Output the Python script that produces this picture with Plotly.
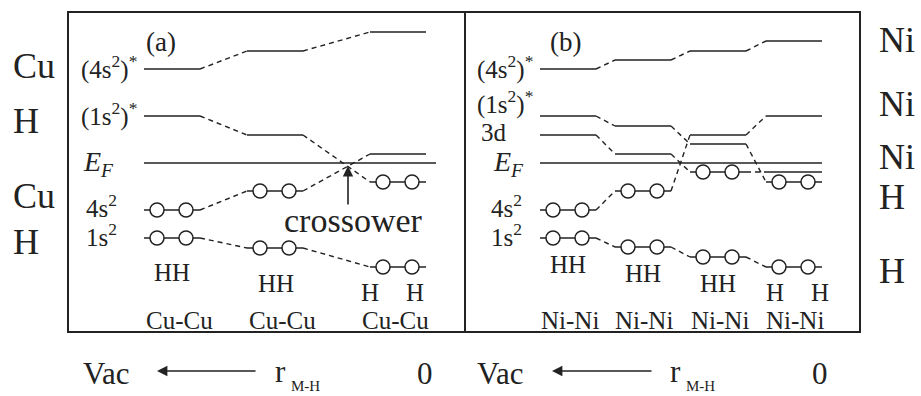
import plotly.graph_objects as go

# ---------------- data: level energies relative to E_F (arbitrary units) -------------
# panel (a): H2 on Cu-Cu, three stages from vacuum to r_M-H = 0
a_4s_star = [94, 112, 131]
a_1s_star = [47, 28, -19]
a_4s = [-47, -28, 9]
a_1s = [-75, -85, -104]
a_4s_star_occ = [0, 0, 0]
a_1s_star_occ = [0, 0, 1]
a_4s_occ = [1, 1, 0]
a_1s_occ = [1, 1, 1]
a_pair_labels = ["Cu-Cu", "Cu-Cu", "Cu-Cu"]
a_h_labels = ["HH", "HH"]

# panel (b): H2 on Ni-Ni, four stages
b_4s_star = [94, 103, 112, 122]
b_1s_star = [47, 37, 19, -19]
b_3d = [28, 9, -9, -9]
b_4s = [-47, -28, 28, 47]
b_1s = [-75, -84, -94, -104]
b_4s_star_occ = [0, 0, 0, 0]
b_1s_star_occ = [0, 0, 0, 1]
b_3d_occ = [0, 0, 1, 0]
b_4s_occ = [1, 1, 0, 0]
b_1s_occ = [1, 1, 1, 1]
b_pair_labels = ["Ni-Ni", "Ni-Ni", "Ni-Ni", "Ni-Ni"]
b_h_labels = ["HH", "HH", "HH"]

# ---------------- layout (pixel geometry) ----------------
W, H = 921, 396
EF_PX = 163
def Y(px):
    return EF_PX - px

A_X0 = [144, 247, 370]
B_X0 = [540, 615, 690, 766]
SEG = 56
CIRC = [13, 42]
INK = "#222222"
FONT = "Liberation Serif, Times New Roman, serif"

fig = go.Figure()

def add_tracks(x0s, tracks):
    sx, sy, dx, dy, cx, cy = [], [], [], [], [], []
    for levels, occ in tracks:
        for i, e in enumerate(levels):
            sx += [x0s[i], x0s[i] + SEG, None]
            sy += [e, e, None]
            if occ[i]:
                for o in CIRC:
                    cx.append(x0s[i] + o)
                    cy.append(e)
            if i + 1 < len(levels):
                dx += [x0s[i] + SEG, x0s[i + 1], None]
                dy += [e, levels[i + 1], None]
    fig.add_trace(go.Scatter(x=sx, y=sy, mode="lines",
                             line=dict(color=INK, width=1.6), hoverinfo="skip"))
    fig.add_trace(go.Scatter(x=dx, y=dy, mode="lines",
                             line=dict(color=INK, width=1.4, dash="5px,4px"),
                             hoverinfo="skip"))
    fig.add_trace(go.Scatter(x=cx, y=cy, mode="markers",
                             marker=dict(symbol="circle", size=14, color="white",
                                         line=dict(color=INK, width=1.5)),
                             hoverinfo="skip"))

# Fermi levels
fig.add_trace(go.Scatter(x=[144, 436, None, 540, 822], y=[0, 0, None, 0, 0],
                         mode="lines", line=dict(color=INK, width=1.6),
                         hoverinfo="skip"))

add_tracks(A_X0, [(a_4s_star, a_4s_star_occ), (a_1s_star, a_1s_star_occ),
                  (a_4s, a_4s_occ), (a_1s, a_1s_occ)])
add_tracks(B_X0, [(b_4s_star, b_4s_star_occ), (b_1s_star, b_1s_star_occ),
                  (b_3d, b_3d_occ), (b_4s, b_4s_occ), (b_1s, b_1s_occ)])

# frame
shapes = [
    dict(type="rect", x0=68, x1=860, y0=Y(12), y1=Y(332),
         line=dict(color=INK, width=2)),
    dict(type="line", x0=465, x1=465, y0=Y(12), y1=Y(332),
         line=dict(color=INK, width=2)),
]

ann = []
def txt(t, x, ypx, size, xanchor="center"):
    ann.append(dict(text=t, x=x, y=Y(ypx), xref="x", yref="y", showarrow=False,
                    xanchor=xanchor, yanchor="middle",
                    font=dict(family=FONT, size=size, color=INK)))

# left / right element labels
for t, ypx in [("Cu", 66), ("H", 121), ("Cu", 196), ("H", 242)]:
    txt(t, 11, ypx, 36, "left")
for t, ypx in [("Ni", 40), ("Ni", 104), ("Ni", 157), ("H", 197), ("H", 271)]:
    txt(t, 877, ypx, 36, "left")

# panel (a) labels
txt("(a)", 161, 42, 27)
txt("(4s<sup>2</sup>)<sup>*</sup>", 139, 67, 25, "right")
txt("(1s<sup>2</sup>)<sup>*</sup>", 139, 114, 25, "right")
txt("<i>E</i><sub><i>F</i></sub>", 98, 163, 28)
txt("4s<sup>2</sup>", 119, 206, 25, "right")
txt("1s<sup>2</sup>", 119, 235, 25, "right")
txt("crossower", 353, 220, 34)
for t, x, ypx in zip(a_h_labels, [172, 276], [272, 283]):
    txt(t, x, ypx, 25)
txt("H", 370, 292, 25)
txt("H", 415, 292, 25)
for t, x in zip(a_pair_labels, [179, 282, 395]):
    txt(t, x, 320, 25)

# panel (b) labels
txt("(b)", 565, 42, 27)
txt("(4s<sup>2</sup>)<sup>*</sup>", 535, 67, 25, "right")
txt("(1s<sup>2</sup>)<sup>*</sup>", 535, 102, 25, "right")
txt("3d", 509, 132, 25, "right")
txt("<i>E</i><sub><i>F</i></sub>", 508, 163, 28)
txt("4s<sup>2</sup>", 524, 206, 25, "right")
txt("1s<sup>2</sup>", 524, 235, 25, "right")
for t, x, ypx in zip(b_h_labels, [568, 643, 718], [264, 273, 283]):
    txt(t, x, ypx, 25)
txt("H", 775, 292, 25)
txt("H", 820, 292, 25)
for t, x in zip(b_pair_labels, [570, 644, 720, 795]):
    txt(t, x, 320, 25)

# bottom axis description
for xv, xr, xs, x0 in [(106, 280, 305, 425), (500, 675, 700, 820)]:
    txt("Vac", xv, 373, 31)
    txt("r", xr, 371, 31)
    txt("M-H", xs, 386, 15)
    txt("0", x0, 373, 31)

# arrows
ann.append(dict(x=348, y=Y(166), ax=348, ay=Y(206), xref="x", yref="y",
                axref="x", ayref="y", text="", showarrow=True, arrowhead=2,
                arrowsize=1.3, arrowwidth=1.6, arrowcolor=INK, standoff=0))
for tip, tail in [(157, 257), (552, 653)]:
    ann.append(dict(x=tip, y=Y(371), ax=tail, ay=Y(371), xref="x", yref="y",
                    axref="x", ayref="y", text="", showarrow=True, arrowhead=2,
                    arrowsize=1.3, arrowwidth=1.6, arrowcolor=INK, standoff=0))

fig.update_layout(
    width=W, height=H, margin=dict(l=0, r=0, t=0, b=0),
    paper_bgcolor="white", plot_bgcolor="white", showlegend=False,
    xaxis=dict(range=[0, W], visible=False, fixedrange=True),
    yaxis=dict(range=[Y(H), Y(0)], visible=False, fixedrange=True),
    shapes=shapes, annotations=ann,
)

fig.write_html("out.html", config={"displayModeBar": False},
               post_script="document.body.style.margin='0';document.body.style.overflow='hidden';")
